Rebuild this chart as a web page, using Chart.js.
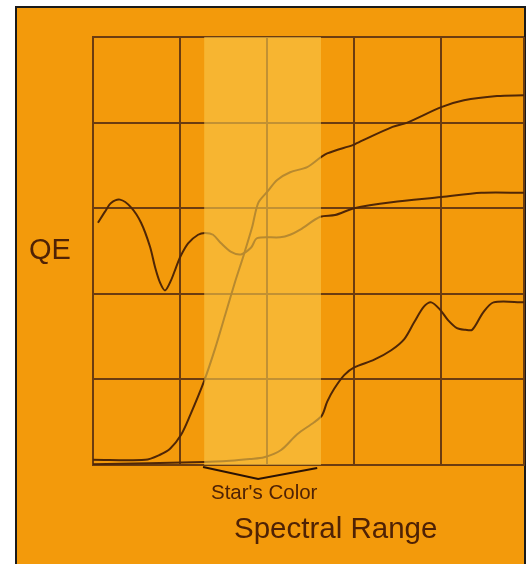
<!DOCTYPE html>
<html>
<head>
<meta charset="utf-8">
<script src="https://cdn.jsdelivr.net/npm/chart.js@4.4.1/dist/chart.umd.min.js"></script>
<style>
  html, body { margin:0; padding:0; background:#ffffff; }
  body { width:528px; height:564px; position:relative; overflow:hidden; font-family:"Liberation Sans", Arial, sans-serif; }
  #frame { position:absolute; left:15px; top:6px; width:507px; height:570px; background:#F39A0B;
           border-left:2px solid #1a1a1a; border-top:2px solid #1a1a1a; border-right:2px solid #1a1a1a; }
  #c { position:absolute; left:0; top:0; }
  .lbl { position:absolute; color:#4f2205; white-space:nowrap; }
  #qe { left:29px; top:233px; font-size:29px; }
  #star { left:211px; top:480px; font-size:20.5px; }
  #spec { left:234px; top:511px; font-size:29.5px; }
</style>
</head>
<body>
<div id="frame"></div>
<canvas id="c" width="528" height="564"></canvas>
<div class="lbl" id="qe">QE</div>
<div class="lbl" id="star">Star's Color</div>
<div class="lbl" id="spec">Spectral Range</div>
<script>
// Spectral axis in grid units (0..~5), QE in grid units (0..5)
const curveAx = [0, 0.60, 0.77, 0.885, 1.01, 1.115, 1.276, 1.402, 1.517, 1.632, 1.724, 1.828, 1.897, 2.0, 2.115, 2.264, 2.46, 2.61, 2.69, 2.99, 3.03, 3.44, 3.61, 4.0, 4.26, 4.64, 4.95];
const curveAy = [0.06, 0.06, 0.12, 0.19, 0.35, 0.58, 0.98, 1.36, 1.75, 2.14, 2.43, 2.78, 3.06, 3.19, 3.33, 3.42, 3.48, 3.59, 3.64, 3.74, 3.76, 3.95, 4.0, 4.18, 4.26, 4.31, 4.32];

const curveBx = [0.057, 0.138, 0.207, 0.31, 0.437, 0.552, 0.655, 0.713, 0.77, 0.828, 0.897, 0.954, 1.011, 1.092, 1.207, 1.287, 1.379, 1.471, 1.586, 1.70, 1.816, 1.885, 2.15, 2.264, 2.38, 2.61, 2.78, 3.0, 3.43, 4.0, 4.46, 4.95];
const curveBy = [2.83, 2.96, 3.06, 3.10, 3.01, 2.83, 2.55, 2.31, 2.13, 2.04, 2.16, 2.31, 2.45, 2.59, 2.69, 2.71, 2.69, 2.59, 2.49, 2.46, 2.54, 2.65, 2.66, 2.69, 2.75, 2.90, 2.92, 3.0, 3.07, 3.13, 3.18, 3.18];

const curveCx = [0, 1.276, 1.575, 1.80, 1.966, 2.16, 2.345, 2.54, 2.63, 2.69, 2.77, 2.885, 3.0, 3.23, 3.425, 3.575, 3.69, 3.80, 3.885, 3.99, 4.08, 4.18, 4.276, 4.356, 4.48, 4.60, 4.95];
const curveCy = [0.01, 0.035, 0.05, 0.07, 0.09, 0.175, 0.36, 0.50, 0.58, 0.74, 0.89, 1.05, 1.14, 1.23, 1.34, 1.47, 1.67, 1.85, 1.90, 1.81, 1.69, 1.60, 1.58, 1.58, 1.78, 1.90, 1.90];

const bandX = [1.276, 2.62];
const bandTop = 5;
const bracketX = [1.264, 1.897, 2.575];
const bracketY = [-0.023, -0.164, -0.035];

const pts = (xs, ys) => xs.map((x, i) => ({ x: x, y: ys[i] }));
const lineCol = '#4f2606';
const gridCol = '#6b3c10';

new Chart(document.getElementById('c'), {
  type: 'line',
  data: {
    datasets: [
      { // Star's color band (semi-transparent overlay)
        data: pts(bandX, [bandTop, bandTop]),
        borderWidth: 0, pointRadius: 0,
        fill: 'origin', backgroundColor: 'rgba(248,198,72,0.62)',
        borderColor: 'rgba(0,0,0,0)'
      },
      { data: pts(curveAx, curveAy), borderColor: lineCol, borderWidth: 2, pointRadius: 0, tension: 0.3, fill: false },
      { data: pts(curveBx, curveBy), borderColor: lineCol, borderWidth: 2, pointRadius: 0, tension: 0.3, fill: false },
      { data: pts(curveCx, curveCy), borderColor: lineCol, borderWidth: 2, pointRadius: 0, tension: 0.3, fill: false },
      { data: pts(bracketX, bracketY), borderColor: '#2a1204', borderWidth: 2, pointRadius: 0, tension: 0, fill: false, clip: false }
    ]
  },
  options: {
    responsive: false,
    animation: false,
    layout: { padding: { left: 93, top: 37, right: 4, bottom: 99 } },
    plugins: { legend: { display: false }, tooltip: { enabled: false }, title: { display: false } },
    scales: {
      x: {
        type: 'linear', min: 0, max: 4.95,
        ticks: { display: false, stepSize: 1 },
        grid: { color: gridCol, lineWidth: 2, drawTicks: false },
        border: { display: true, color: gridCol, width: 2 }
      },
      y: {
        type: 'linear', min: 0, max: 5,
        ticks: { display: false, stepSize: 1 },
        grid: { color: gridCol, lineWidth: 2, drawTicks: false },
        border: { display: true, color: gridCol, width: 2 }
      }
    }
  }
});
</script>
</body>
</html>
